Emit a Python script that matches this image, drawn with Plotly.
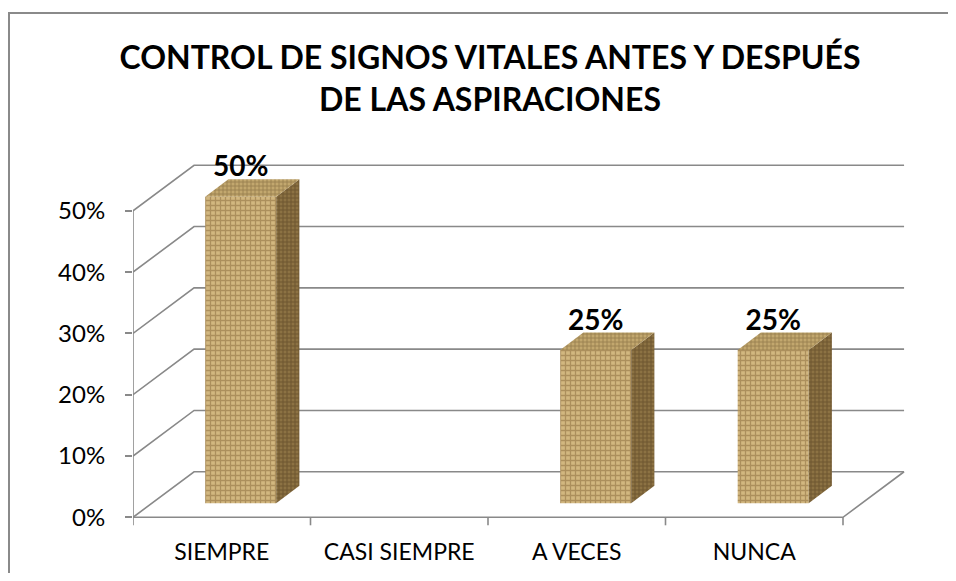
import plotly.graph_objects as go

# ---------------- data ----------------
categories = ["SIEMPRE", "CASI SIEMPRE", "A VECES", "NUNCA"]
values = [0.50, 0.00, 0.25, 0.25]
value_labels = ["50%", "0%", "25%", "25%"]
y_ticks = [0, 0.1, 0.2, 0.3, 0.4, 0.5]
y_tick_labels = ["0%", "10%", "20%", "30%", "40%", "50%"]
title_text = "CONTROL DE SIGNOS VITALES ANTES Y DESPUÉS<br>DE LAS ASPIRACIONES"

# ---------------- oblique 3D geometry (style) ----------------
DX = 0.344    # depth offset, category units
DY = 0.0743   # depth offset, value units
F0 = 0.31     # depth fraction of the bar front face
FD = 0.38     # depth fraction of the bar thickness
BW = 0.40     # bar width (category units)
n = len(categories)

# page is shown with an 8px body margin, so the figure is laid out 8px up/left
OFF = 8
W, H = 956 - 2 * OFF, 581 - 2 * OFF
PX_L, PX_R, PX_T, PX_B = 133 - OFF, 912 - OFF, 148 - OFF, 530 - OFF
SLOT, UNIT, Y0PX = 177.5, 613.0, 517.3 - OFF
x_range = [0, (PX_R - PX_L) / SLOT]
y_range = [-(PX_B - Y0PX) / UNIT, (Y0PX - PX_T) / UNIT]

GRID = "#898989"
FONT = "Lato"

fig = go.Figure()

# walls / floor / axis lines
gx, gy = [], []
for t in y_ticks:
    gx += [0, DX, n + DX, None]
    gy += [t, t + DY, t + DY, None]
gx += [0, n, n + DX, None, 0, 0, None]
gy += [0, 0, DY, None, 0, max(y_ticks), None]
tick_y = -8 / UNIT
for i in range(n + 1):
    gx += [i, i, None]
    gy += [0, tick_y, None]
fig.add_trace(go.Scatter(x=gx, y=gy, mode="lines", line=dict(color=GRID, width=1.6),
                         hoverinfo="skip", showlegend=False))

# bars
front_pat = dict(shape="+", bgcolor="#d2b77f", fgcolor="#86683a", size=5, solidity=0.45)
side_pat = dict(shape="+", bgcolor="#8c7243", fgcolor="#4e3a1c", size=4, solidity=0.45)
top_pat = dict(shape="+", bgcolor="#c2a76e", fgcolor="#6f5630", size=4, solidity=0.4)

b0 = F0 * DY
ddx, ddy = FD * DX, FD * DY
for i, v in enumerate(values):
    if v <= 0:
        continue
    xl = i + 0.5 - BW / 2 + F0 * DX
    xr = xl + BW
    # front face
    fig.add_trace(go.Scatter(x=[xl, xr, xr, xl, xl], y=[b0, b0, b0 + v, b0 + v, b0],
                             mode="lines", fill="toself", line=dict(width=0),
                             fillcolor="#c9ad75", fillpattern=front_pat,
                             hoverinfo="skip", showlegend=False))
    # side face
    fig.add_trace(go.Scatter(x=[xr, xr + ddx, xr + ddx, xr, xr],
                             y=[b0, b0 + ddy, b0 + ddy + v, b0 + v, b0],
                             mode="lines", fill="toself", line=dict(width=0),
                             fillcolor="#85693b", fillpattern=side_pat,
                             hoverinfo="skip", showlegend=False))
    # top face
    fig.add_trace(go.Scatter(x=[xl, xr, xr + ddx, xl + ddx, xl],
                             y=[b0 + v, b0 + v, b0 + v + ddy, b0 + v + ddy, b0 + v],
                             mode="lines", fill="toself", line=dict(width=0),
                             fillcolor="#b59a62", fillpattern=top_pat,
                             hoverinfo="skip", showlegend=False))

# data labels
LABEL_DROP = 4 / UNIT
lx, ly, lt = [], [], []
for i, v in enumerate(values):
    if v <= 0:
        continue
    lx.append(i + 0.5 + F0 * DX)
    ly.append(b0 + v + ddy - LABEL_DROP)
    lt.append(value_labels[i])
fig.add_trace(go.Scatter(x=lx, y=ly, mode="text", text=lt, textposition="top center",
                         textfont=dict(family=FONT, size=28, color="#000000", weight="bold"),
                         hoverinfo="skip", showlegend=False, cliponaxis=False))

# chart-area frame (left and top edges visible in the picture)
fx0 = (9 - OFF - PX_L) / (PX_R - PX_L)
fx1 = (990 - PX_L) / (PX_R - PX_L)
fy0 = (PX_B - 620) / (PX_B - PX_T)
fy1 = (PX_B - (13 - OFF)) / (PX_B - PX_T)

fig.update_layout(
    width=W, height=H,
    margin=dict(l=PX_L, r=W - PX_R, t=PX_T, b=H - PX_B, pad=0, autoexpand=False),
    paper_bgcolor="white", plot_bgcolor="white",
    title=dict(text=title_text, x=(490 - OFF) / W, xanchor="center", y=1 - 61 / H, yanchor="middle",
               font=dict(family=FONT, size=32, color="#000000", weight="bold"),
               automargin=False),
    xaxis=dict(range=x_range, showgrid=False, zeroline=False, showline=False, automargin=False,
               tickmode="array", tickvals=[i + 0.5 for i in range(n)], ticktext=categories,
               ticks="", ticklabelstandoff=6,
               tickfont=dict(family=FONT, size=23, color="#000000"), fixedrange=True),
    yaxis=dict(range=y_range, showgrid=False, zeroline=False, showline=False, automargin=False,
               tickmode="array", tickvals=y_ticks, ticktext=y_tick_labels,
               ticks="outside", ticklen=7, tickcolor=GRID, tickwidth=1.6,
               ticklabelstandoff=15,
               tickfont=dict(family=FONT, size=24, color="#000000"), fixedrange=True),
    shapes=[dict(type="path", xref="paper", yref="paper",
                 path=f"M {fx0},{fy0} L {fx0},{fy1} L {fx1},{fy1}",
                 line=dict(color="#8a8a8a", width=2), layer="below")],
)

fig.write_html("out.html")
